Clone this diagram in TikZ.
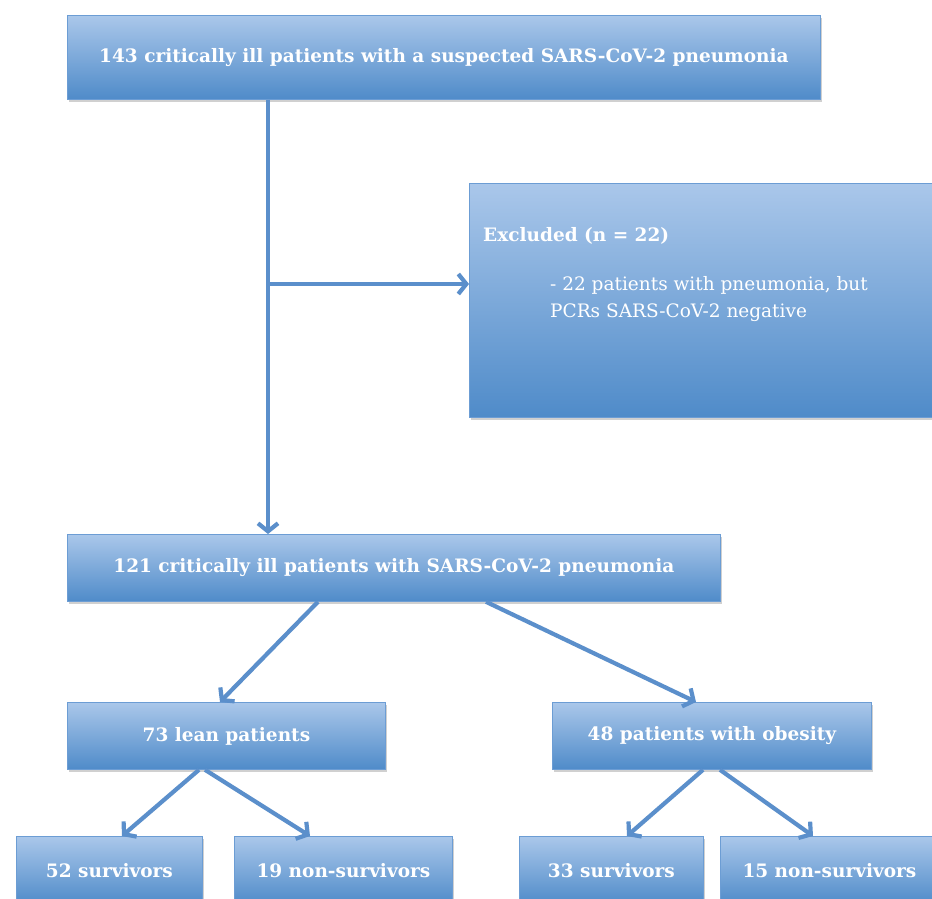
\documentclass[tikz,border=0pt]{standalone}
\usepackage{fontspec}
\setmainfont{DejaVu Serif}
\usetikzlibrary{arrows.meta,shadows}
\definecolor{boxtop}{HTML}{AAC7EA}
\definecolor{boxbot}{HTML}{4F8BC9}
\definecolor{boxline}{HTML}{6C9DD4}
\definecolor{arrowc}{HTML}{5B8FCB}
\begin{document}
\begin{tikzpicture}[x=1pt,y=-1pt,
  fbox/.style={draw=boxline, line width=0.8pt, top color=boxtop, bottom color=boxbot,
    drop shadow={shadow xshift=1.5pt, shadow yshift=-2.5pt, opacity=0.3, fill=black!60},
    text=white, font=\fontsize{18.5}{22}\selectfont\bfseries, inner sep=0pt, anchor=north west},
  conn/.style={draw=arrowc, line width=4.2pt, -{Straight Barb[length=8pt,width=20pt]}}
]
\useasboundingbox (0,0) rectangle (932,899);
\fill[white] (0,0) rectangle (932,899);

\node[fbox, minimum width=753pt, minimum height=84pt] (top) at (67,15)
  {143 critically ill patients with a suspected SARS-CoV-2 pneumonia};
\node[fbox, minimum width=475pt, minimum height=234pt] (excl) at (469,183) {};
\node[text=white, font=\fontsize{18.5}{22}\selectfont\bfseries, anchor=west, inner sep=0pt] (exh) at (483,236) {Excluded (n = 22)};
\node[text=white, font=\fontsize{18.5}{27}\selectfont, anchor=north west, align=left, inner sep=0pt] (exb) at (550,276)
  {- 22 patients with pneumonia, but\\PCRs SARS-CoV-2 negative};

\node[fbox, minimum width=653pt, minimum height=67pt] (mid) at (67,534)
  {121 critically ill patients with SARS-CoV-2 pneumonia};
\node[fbox, minimum width=318pt, minimum height=67pt] (lean) at (67,702) {73 lean patients};
\node[fbox, minimum width=319pt, minimum height=67pt] (obese) at (552,702) {48 patients with obesity};

\node[fbox, minimum width=186pt, minimum height=68pt] (s1) at (16,836) {52 survivors};
\node[fbox, minimum width=218pt, minimum height=68pt] (n1) at (234,836) {19 non-survivors};
\node[fbox, minimum width=184pt, minimum height=68pt] (s2) at (519,836) {33 survivors};
\node[fbox, minimum width=218pt, minimum height=68pt] (n2) at (720,836) {15 non-survivors};

\draw[conn] ([xshift=201pt]top.south west) -- ([xshift=201pt]mid.north west);
\coordinate (br) at (268,284);
\draw[conn] (br) -- (excl.west |- br);

\draw[conn] ([xshift=251pt]mid.south west) -- ([xshift=153pt]lean.north west);
\draw[conn] ([xshift=419pt]mid.south west) -- ([xshift=144pt]obese.north west);

\draw[conn] ([xshift=132pt]lean.south west) -- ([xshift=106pt]s1.north west);
\draw[conn] ([xshift=138pt]lean.south west) -- ([xshift=76pt]n1.north west);
\draw[conn] ([xshift=151pt]obese.south west) -- ([xshift=108pt]s2.north west);
\draw[conn] ([xshift=168pt]obese.south west) -- ([xshift=93pt]n2.north west);
\end{tikzpicture}
\end{document}
